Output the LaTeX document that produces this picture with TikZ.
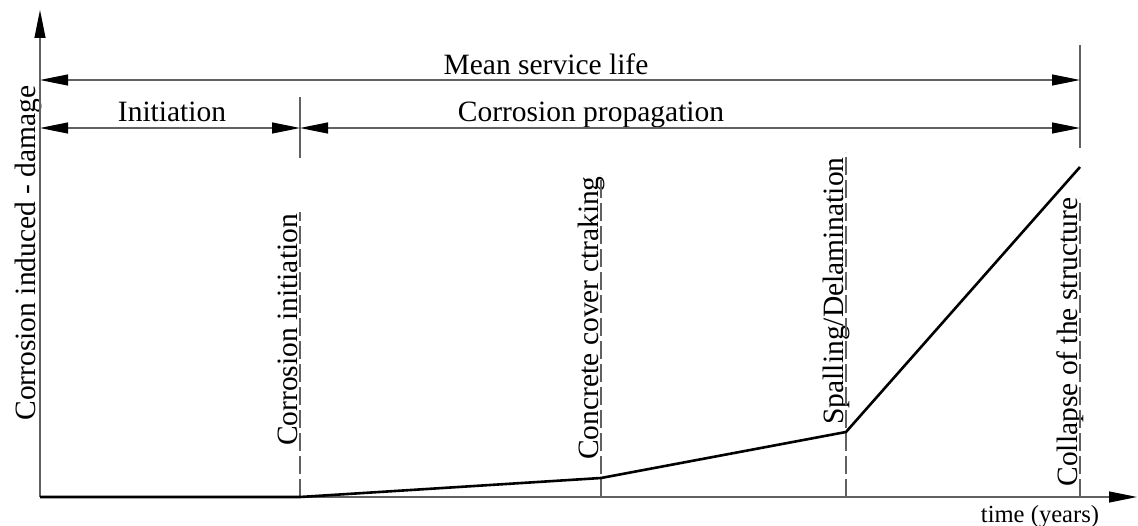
\documentclass[tikz,border=0pt]{standalone}
\usepackage{fontspec}
\setmainfont{Liberation Serif}
\usetikzlibrary{arrows.meta}
\begin{document}
\begin{tikzpicture}[x=1pt,y=-1pt,
  lbl/.style={inner sep=0pt, font=\fontsize{29.5}{34}\selectfont},
  hlbl/.style={lbl, anchor=base},
  vlbl/.style={lbl, rotate=90, anchor=base},
  thinline/.style={draw=black!62, line width=1.1pt},
  tipA/.style={-{Triangle[length=28pt,width=11pt,color=black]}},
  dimline/.style={thinline, {Triangle[length=28pt,width=11pt,color=black]}-{Triangle[length=28pt,width=11pt,color=black]}},
  ctrline/.style={thinline, dash pattern=on 18pt off 5pt},
  damage/.style={draw=black, line width=2.6pt, line join=round}]
\useasboundingbox (0,0) rectangle (1138,526);

% key points
\coordinate (O) at (40,497);
\coordinate (Ytip) at (40,10);
\coordinate (Xtip) at (1137,497);
\coordinate (p1) at (300,497);
\coordinate (p2) at (601,478);
\coordinate (p3) at (846,432);
\coordinate (p4) at (1080,167);
\coordinate (b2) at (601,497);
\coordinate (b3) at (846,497);
\coordinate (b4) at (1080,497);
\coordinate (t1) at (300,212);
\coordinate (t2) at (601,175);
\coordinate (t3) at (846,152);
\coordinate (t4) at (1080,198);
% dimension line ends
\coordinate (mL) at (40,80);
\coordinate (mR) at (1080,80);
\coordinate (iL) at (40,128);
\coordinate (iM) at (300,128);
\coordinate (iR) at (1080,128);
\coordinate (k1a) at (300,97);
\coordinate (k1b) at (300,158);
\coordinate (k4a) at (1080,45);
\coordinate (k4b) at (1080,148);

% labels
\node[vlbl] (ylab) at (35,253) {Corrosion induced - damage};
\node[hlbl] (msl) at (546,75) {Mean service life};
\node[hlbl] (ini) at (172,122) {Initiation};
\node[hlbl] (prop) at (591,122) {Corrosion propagation};
\node[vlbl] (ci) at (297,330) {Corrosion initiation};
\node[vlbl] (cc) at (598,318) {Concrete cover ctraking};
\node[vlbl] (sd) at (843,291) {Spalling/Delamination};
\node[vlbl] (cs) at (1077,342) {Collapse of the structure};
\node[inner sep=0pt, anchor=base, font=\fontsize{24.6}{28}\selectfont] (time) at (1040,522) {time (years)};

% event lines
\draw[ctrline] (p1) -- (t1);
\draw[ctrline] (b2) -- (t2);
\draw[ctrline] (b3) -- (t3);
\draw[ctrline] (b4) -- (t4);
\draw[thinline] (k1a) -- (k1b);
\draw[thinline] (k4a) -- (k4b);

% dimension lines
\draw[dimline] (mL) -- (mR);
\draw[dimline] (iL) -- (iM);
\draw[dimline] (iM) -- (iR);

% axes
\draw[thinline, tipA] (O) -- (Ytip);
\draw[thinline, tipA] (O) -- (Xtip);

% damage curve
\draw[damage] (O) -- (p1) -- (p2) -- (p3) -- (p4);
\end{tikzpicture}
\end{document}
